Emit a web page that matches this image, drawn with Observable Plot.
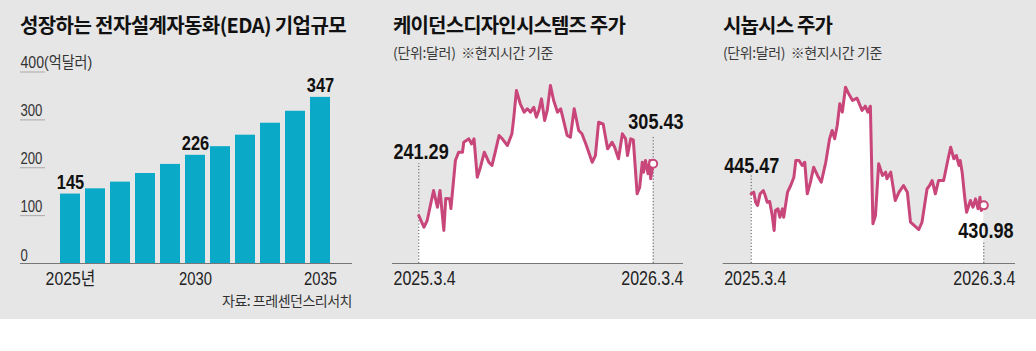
<!DOCTYPE html>
<html>
<head>
<meta charset="utf-8">
<script src="https://cdn.jsdelivr.net/npm/d3@7"></script>
<script src="https://cdn.jsdelivr.net/npm/@observablehq/plot@0.6"></script>
<style>
  html, body { margin: 0; padding: 0; background: #fff; }
  #bg { position: relative; width: 1036px; height: 319px; background: #e6e6e6; overflow: hidden; }
  .title { position: absolute; font-family: 'Noto Sans CJK KR', sans-serif; font-weight: 700; font-size: 20px; line-height: 20px; color: #111; white-space: pre; }
  .sub { position: absolute; font-family: 'Noto Sans CJK KR', sans-serif; font-size: 14px; line-height: 14px; color: #3a3a3a; white-space: pre; }
  .src { position: absolute; font-family: 'Noto Sans CJK KR', sans-serif; font-size: 14px; line-height: 14px; color: #333; white-space: pre; }
  .panel { position: absolute; top: 40px; }
  .panel svg { overflow: visible; }
</style>
</head>
<body>
<div id="bg">
  <div class="title" data-w="326" style="left:20px; top:15px;">성장하는 전자설계자동화(EDA) 기업규모</div>
  <div class="title" data-w="232" style="left:393px; top:15px;">케이던스디자인시스템즈 주가</div>
  <div class="title" data-w="109" style="left:723px; top:15px;">시놉시스 주가</div>
  <div class="sub" data-w="160" style="left:393px; top:45px;">(단위:달러)  ※현지시간 기준</div>
  <div class="sub" data-w="159" style="left:723px; top:45px;">(단위:달러)  ※현지시간 기준</div>
  <div class="src" data-w="130" style="left:222px; top:293px;">자료: 프레센던스리서치</div>
  <div class="panel" id="p1" style="left:0px;"></div>
  <div class="panel" id="p2" style="left:360px;"></div>
  <div class="panel" id="p3" style="left:700px;"></div>
</div>
<script>
// ---------- data ----------
const years = [2025, 2026, 2027, 2028, 2029, 2030, 2031, 2032, 2033, 2034, 2035];
const edaSize = [145, 156, 170, 188, 207, 226, 244, 268, 293, 318, 347];
const labelledYears = [2025, 2030, 2035];
const yTicks = [100, 200, 300, 400];
const yTickLabels = ["100", "200", "300", "400(억달러)"];
const zeroLabel = "0";
const xTickYears = [2025, 2030, 2035];
const xTickLabels = ["2025년", "2030", "2035"];

// days since 2025-03-04
const cadDay = [0,8,13,23,29,33,39,42,48,50,57,62,68,70,78,82,86,91,96,102,109,114,119,125,130,138,145,148,152,158,164,169,174,179,183,187,191,196,200,205,210,216,221,226,231,236,242,249,254,260,270,275,280,287,294,301,305,311,317,322,325,330,334,340,344,348,350,353,357,360,361,365];
const cadPrice = [241.29,226.9,235.2,272.4,251.7,272.4,222.9,262.5,262.1,250.1,309.5,319.8,319.8,332.2,336.4,330.2,336.4,288.9,301.2,319.8,307.4,303.4,319.8,340.5,336.4,328.1,342.6,363.2,396.2,379.8,369.4,373.6,369.4,375.5,363.2,371.5,385.9,359.1,371.5,402.4,383.8,369.4,373.6,357.0,340.5,338.4,373.6,346.7,342.6,330.2,307.4,315.7,357.0,355.0,324.0,332.2,326.0,311.7,342.6,336.4,315.7,336.4,335.2,268.3,276.5,307.4,295.1,309.5,293.1,309.5,286.9,305.43];

const snpsDay = [0,4,7,10,14,19,22,25,29,33,36,38,42,45,49,51,57,62,67,70,75,80,84,88,93,98,104,110,117,123,127,131,135,139,143,148,153,159,166,174,179,183,187,191,195,200,206,211,213,219,226,232,239,245,250,263,268,276,280,284,289,294,302,309,313,318,322,326,328,331,335,338,344,348,352,356,359,361,365];
const snpsPrice = [445.47,447.3,434.9,430.8,445.3,449.4,443.2,434.9,435.8,418.4,399.9,424.6,426.7,416.3,426.7,416.3,447.3,455.6,465.9,486.5,486.5,480.4,484.4,445.3,459.7,478.2,468.0,459.7,484.4,513.4,523.7,513.4,529.9,556.8,546.4,577.3,569.1,560.8,563.7,548.5,553.8,546.4,553.8,408.2,418.4,482.5,468.0,472.1,463.9,472.1,437.0,447.3,455.6,447.3,410.1,401.1,410.1,451.5,455.6,461.8,445.3,461.8,461.8,488.7,503.0,488.7,492.7,480.4,486.5,472.1,441.1,422.5,437.0,428.7,439.1,426.7,441.1,424.6,430.98];

const dateLabels = ["2025.3.4", "2026.3.4"];

// ---------- styles ----------
const BAR = "#0aa9c8";
const PINK = "#c8467a";
const FONT = "'Liberation Sans', Arial, 'Noto Sans CJK KR', sans-serif";
const NARROW = 0.82;       // Latin digits
const NARROW_KR = 0.88;    // labels that include Hangul

// fit HTML text blocks to the widths seen in the reference
document.querySelectorAll("[data-w]").forEach(el => {
  const target = +el.dataset.w;
  const n = [...el.textContent].length;
  const w = el.getBoundingClientRect().width;
  el.style.letterSpacing = ((target - w) / n) + "px";
});

// condense SVG text (the reference uses a narrow face)
function condense(svg) {
  svg.querySelectorAll("text").forEach(t => {
    const len = t.getComputedTextLength();
    if (len > 0) {
      const f = /[\uAC00-\uD7A3]/.test(t.textContent) ? NARROW_KR : NARROW;
      t.setAttribute("textLength", (len * f).toFixed(2));
      t.setAttribute("lengthAdjust", "spacingAndGlyphs");
    }
  });
}

// ---------- panel 1: bars ----------
const bars = years.map((y, i) => ({year: y, value: edaSize[i]}));
const barLabels = bars.filter(d => labelledYears.includes(d.year));
const yTickData = yTicks.map((v, i) => ({v, label: yTickLabels[i]}));

const p1 = Plot.plot({
  width: 360, height: 260,
  marginLeft: 45, marginRight: 8, marginTop: 31.5, marginBottom: 37,
  style: {background: "transparent", overflow: "visible"},
  x: {type: "band", domain: years, padding: 0.2, insetLeft: 7, insetRight: 13.4, axis: null},
  y: {domain: [0, 400], axis: null},
  marks: [
    Plot.ruleY(yTicks, {stroke: "#a8a8a8", strokeWidth: 1, insetLeft: -25, insetRight: 307}),
    Plot.barY(bars, {x: "year", y: "value", fill: BAR}),
    Plot.ruleY([0], {stroke: "#777", strokeWidth: 1, insetLeft: -25}),
    Plot.text(yTickData, {y: "v", text: "label", frameAnchor: "left", textAnchor: "start", lineAnchor: "bottom", dx: -25, dy: -4, fontSize: 16, fill: "#333", fontFamily: FONT}),
    Plot.text([0], {y: d => d, text: () => zeroLabel, frameAnchor: "left", textAnchor: "start", lineAnchor: "bottom", dx: -25, dy: -3, fontSize: 16, fill: "#333", fontFamily: FONT}),
    Plot.text(barLabels, {x: "year", y: "value", text: d => String(d.value), lineAnchor: "bottom", dy: -5, fontSize: 20, fontWeight: "bold", fill: "#111", fontFamily: FONT}),
    Plot.text(xTickYears.map((y, i) => ({y, t: xTickLabels[i]})), {x: "y", text: "t", frameAnchor: "bottom", lineAnchor: "bottom", dy: 21, fontSize: 18, fill: "#222", fontFamily: FONT})
  ]
});
document.getElementById("p1").append(p1);
condense(p1);

// ---------- line panels ----------
function linePanel({days, prices, width, marginLeft, marginRight, insetLeft, insetRight, yDomain,
                    startRuleTop, endRuleTop, startDy, endDy, endDx}) {
  const data = days.map((d, i) => ({day: d, price: prices[i]}));
  const first = data[0], last = data[data.length - 1];
  const base = yDomain[0];
  return Plot.plot({
    width, height: 260, marginLeft, marginRight, marginTop: 30, marginBottom: 37,
    style: {background: "transparent", overflow: "visible"},
    x: {domain: [0, 365], insetLeft, insetRight, axis: null},
    y: {domain: yDomain, axis: null},
    marks: [
      Plot.areaY(data, {x: "day", y1: base, y2: "price", fill: "white"}),
      Plot.ruleY([base], {stroke: "#777", strokeWidth: 1}),
      Plot.ruleX([first.day], {y1: base, y2: startRuleTop, stroke: "#555", strokeWidth: 1, strokeDasharray: "1.2,2"}),
      Plot.ruleX([last.day], {y1: base, y2: endRuleTop, stroke: "#555", strokeWidth: 1, strokeDasharray: "1.2,2"}),
      Plot.line(data, {x: "day", y: "price", stroke: PINK, strokeWidth: 3, strokeLinejoin: "round", strokeLinecap: "round"}),
      Plot.dot([last], {x: "day", y: "price", r: 4, fill: "white", stroke: PINK, strokeWidth: 2}),
      Plot.text([first], {y: "price", text: d => d.price.toFixed(2), frameAnchor: "left", textAnchor: "start", lineAnchor: "bottom", dx: 1, dy: startDy, fontSize: 22, fontWeight: "bold", fill: "#111", fontFamily: FONT}),
      Plot.text([last], {y: "price", text: d => d.price.toFixed(2), frameAnchor: "right", textAnchor: "end", lineAnchor: "bottom", dx: endDx, dy: endDy, fontSize: 22, fontWeight: "bold", fill: "#111", fontFamily: FONT}),
      Plot.text([dateLabels[0]], {text: d => d, frameAnchor: "bottom-left", textAnchor: "start", lineAnchor: "bottom", dx: 1, dy: 21, fontSize: 19.5, fill: "#222", fontFamily: FONT}),
      Plot.text([dateLabels[1]], {text: d => d, frameAnchor: "bottom-right", textAnchor: "end", lineAnchor: "bottom", dy: 21, fontSize: 19.5, fill: "#222", fontFamily: FONT})
    ]
  });
}

const p2 = linePanel({
  days: cadDay, prices: cadPrice, width: 340, marginLeft: 32, marginRight: 17,
  insetLeft: 26.3, insetRight: 30.3, yDomain: [182, 421],
  startRuleTop: 305.8, endRuleTop: 340.5, startDy: -57, endDy: -35, endDx: 0
});
document.getElementById("p2").append(p2);
condense(p2);

const p3 = linePanel({
  days: snpsDay, prices: snpsPrice, width: 336, marginLeft: 22.7, marginRight: 21,
  insetLeft: 28, insetRight: 31.7, yDomain: [359, 598],
  startRuleTop: 468.0, endRuleTop: 386.6, startDy: -20.5, endDy: 32.4, endDx: -2
});
document.getElementById("p3").append(p3);
condense(p3);
</script>
</body>
</html>
